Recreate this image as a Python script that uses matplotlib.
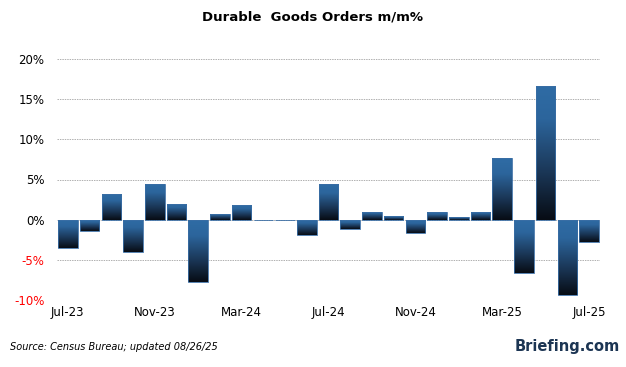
import numpy as np
import matplotlib.pyplot as plt
from matplotlib.colors import LinearSegmentedColormap

# Monthly durable goods orders, m/m %
months = ["Jul-23", "Aug-23", "Sep-23", "Oct-23", "Nov-23", "Dec-23",
          "Jan-24", "Feb-24", "Mar-24", "Apr-24", "May-24", "Jun-24",
          "Jul-24", "Aug-24", "Sep-24", "Oct-24", "Nov-24", "Dec-24",
          "Jan-25", "Feb-25", "Mar-25", "Apr-25", "May-25", "Jun-25", "Jul-25"]
values = [-3.5, -1.4, 3.2, -4.0, 4.5, 2.0,
          -7.7, 0.75, 1.8, -0.1, -0.1, -1.9,
          4.4, -1.1, 1.0, 0.4, -1.6, 0.9,
          0.3, 1.0, 7.7, -6.6, 16.7, -9.4, -2.8]
yticks = [-10, -5, 0, 5, 10, 15, 20]

fig = plt.figure(figsize=(6.26, 3.67), dpi=100)
ax = fig.add_axes([57 / 626, 1 - 300 / 367, 543 / 626, 241 / 367])

x = np.arange(len(values))
bars = ax.bar(x, values, width=0.9, color="none", edgecolor="#3a6ea5",
              linewidth=0.6, zorder=3)

# vertical gradient: blue at top, near black at bottom
cmap = LinearSegmentedColormap.from_list(
    "bar", [(0, "#070c14"), (0.35, "#1a3656"), (0.75, "#2c659c"), (1, "#2f6ca5")])
grad = np.linspace(0, 1, 256).reshape(-1, 1)
for b in bars:
    x0, y0 = b.get_x(), b.get_y()
    w, h = b.get_width(), b.get_height()
    lo, hi = min(y0, y0 + h), max(y0, y0 + h)
    im = ax.imshow(grad, cmap=cmap, origin="lower", aspect="auto",
                   extent=[x0, x0 + w, lo, hi], zorder=2)
    im.set_clip_path(b)

ax.set_xlim(-0.5, len(values) - 0.5)
ax.set_ylim(-10, 20)
ax.set_yticks(yticks)
ax.set_yticklabels([f"{t}%" for t in yticks])
for lbl, t in zip(ax.get_yticklabels(), yticks):
    lbl.set_color("red" if t < 0 else "black")
ax.set_xticks(x[::4])
ax.set_xticklabels(months[::4])
ax.tick_params(length=0, labelsize=8.5, pad=9)
ax.tick_params(axis="x", pad=4)
ax.grid(axis="y", color="#b0b0b0", linestyle=(0, (1.5, 1)), linewidth=0.7, zorder=0)
for s in ax.spines.values():
    s.set_visible(False)

fig.text(0.5, 1 - 17 / 367, "Durable  Goods Orders m/m%", ha="center", va="center",
         fontsize=9.5, fontweight="bold")
fig.text(10 / 626, 1 - 347 / 367, "Source: Census Bureau; updated 08/26/25",
         ha="left", va="center", fontsize=7, style="italic")
fig.text(620 / 626, 1 - 347 / 367, "Briefing.com", ha="right", va="center",
         fontsize=10.5, fontweight="bold", color="#1c3553")

fig.savefig("out.png", dpi=100)
